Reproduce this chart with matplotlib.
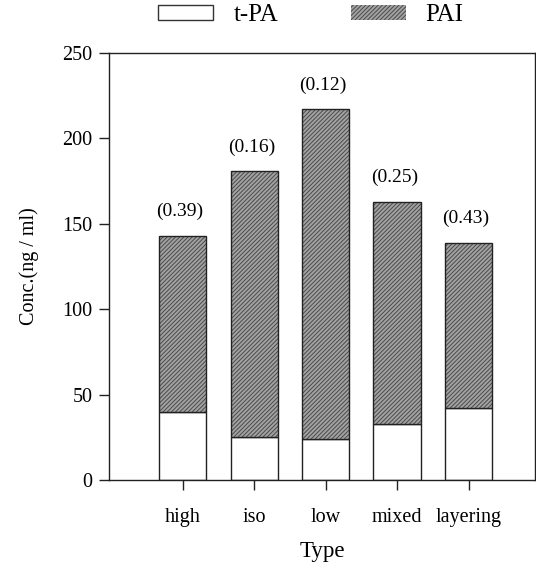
import matplotlib
matplotlib.use("Agg")
import matplotlib.pyplot as plt
import numpy as np
from matplotlib.patches import Patch

categories = ["high", "iso", "low", "mixed", "layering"]
tpa = [40, 25, 24, 33, 42]
total = [143, 181, 217, 163, 139]
ratios = ["(0.39)", "(0.16)", "(0.12)", "(0.25)", "(0.43)"]
pai = [t - a for t, a in zip(total, tpa)]

plt.rcParams['font.family'] = ['Liberation Serif', 'DejaVu Serif']
plt.rcParams['hatch.linewidth'] = 0.7

W, H = 536, 567
fig = plt.figure(figsize=(W / 100, H / 100), dpi=100)
ax = fig.add_axes([109 / W, 1 - 480 / H, (535 - 109) / W, (480 - 53) / H])

x = np.arange(len(categories))
width = 0.66
hatch_fc = "#a2a2a2"
hatch_ec = "#4a4a4a"
ax.bar(x, tpa, width, color="white", edgecolor="#222222", linewidth=1.0)
ax.bar(x, pai, width, bottom=tpa, color=hatch_fc, edgecolor=hatch_ec,
       hatch="////////", linewidth=0)
ax.bar(x, pai, width, bottom=tpa, fill=False, edgecolor="#222222", linewidth=1.0)

for xi, tot, lab in zip(x, total, ratios):
    ax.annotate(lab, (xi, tot), xytext=(-2, 11), textcoords="offset points",
                ha="center", va="bottom", fontsize=14)

ax.set_xlim(-1.03, 4.93)
ax.set_ylim(0, 250)
ax.set_yticks([0, 50, 100, 150, 200, 250])
ax.set_xticks(x)
ax.set_xticklabels(categories)
ax.tick_params(axis="both", direction="out", labelsize=14.5, length=7, width=1.0,
               color="#222222")
ax.tick_params(axis="y", pad=5)
ax.tick_params(axis="x", pad=13)
for s in ax.spines.values():
    s.set_linewidth(1.0)
    s.set_color("#222222")

ax.set_ylabel("Conc.(ng / ml)", fontsize=14.5, labelpad=17)
ax.set_xlabel("Type", fontsize=16.5, labelpad=10)

h1 = Patch(facecolor="white", edgecolor="#333333", linewidth=1.0)
h2 = Patch(facecolor=hatch_fc, edgecolor=hatch_ec, hatch="////////", linewidth=0)
leg = fig.legend([h1, h2], ["t-PA", "PAI"], loc="center",
                 bbox_to_anchor=(311 / W, 1 - 15 / H), ncol=2, frameon=False,
                 fontsize=18, handlelength=2.2, handleheight=0.55,
                 handletextpad=0.8, columnspacing=2.9, borderaxespad=0)

fig.savefig("out.png", dpi=100)
